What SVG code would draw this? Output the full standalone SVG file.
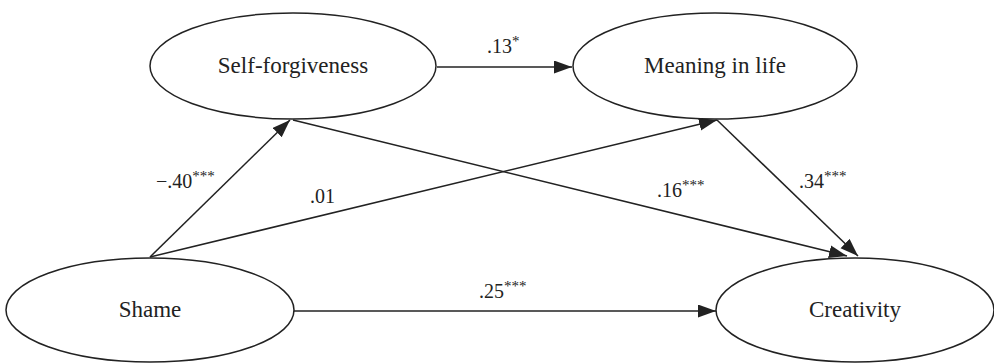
<svg xmlns="http://www.w3.org/2000/svg" width="994" height="363" viewBox="0 0 994 363">
<style>
.node ellipse{fill:#fff;stroke:#222;stroke-width:1.5}
text{fill:#222}
.lbl{text-anchor:middle}
#edges line{stroke:#222;stroke-width:1.5;fill:none;marker-end:url(#ah)}
</style>
<defs>
<marker id="ah" markerUnits="userSpaceOnUse" markerWidth="20" markerHeight="14" refX="18" refY="6.5" orient="auto">
<path d="M0,0 L18,6.5 L0,13 z" fill="#222"/>
</marker>
</defs>
<rect width="994" height="363" fill="#fff"/>
<g id="edges">
<line x1="437" y1="67" x2="572" y2="67"/>
<line x1="150" y1="257" x2="290" y2="120"/>
<line x1="150" y1="257" x2="717" y2="120"/>
<line x1="293" y1="120" x2="847" y2="256"/>
<line x1="717" y1="120" x2="858" y2="256"/>
<line x1="293" y1="311" x2="716" y2="311"/>
</g>
<g font-family="Liberation Serif" font-size="23">
<g id="self-forgiveness" class="node">
<ellipse cx="293" cy="66" rx="143" ry="53"/>
<text class="lbl" x="293" y="73">Self-forgiveness</text>
</g>
<g id="meaning-in-life" class="node">
<ellipse cx="715" cy="66" rx="142" ry="53"/>
<text class="lbl" x="715" y="73">Meaning in life</text>
</g>
<g id="shame" class="node">
<ellipse cx="150" cy="310" rx="144" ry="52"/>
<text class="lbl" x="150" y="317">Shame</text>
</g>
<g id="creativity" class="node">
<ellipse cx="855" cy="310" rx="139" ry="52"/>
<text class="lbl" x="855" y="317">Creativity</text>
</g>
</g>
<g id="labels" font-family="Liberation Serif" font-size="20">
<text x="487" y="53">.13<tspan font-size="15" dy="-7">*</tspan></text>
<text x="156" y="188">−.40<tspan font-size="15" dy="-7">***</tspan></text>
<text x="310" y="203">.01</text>
<text x="657" y="197">.16<tspan font-size="15" dy="-7">***</tspan></text>
<text x="799" y="188">.34<tspan font-size="15" dy="-7">***</tspan></text>
<text x="479" y="298">.25<tspan font-size="15" dy="-7">***</tspan></text>
</g>
</svg>
